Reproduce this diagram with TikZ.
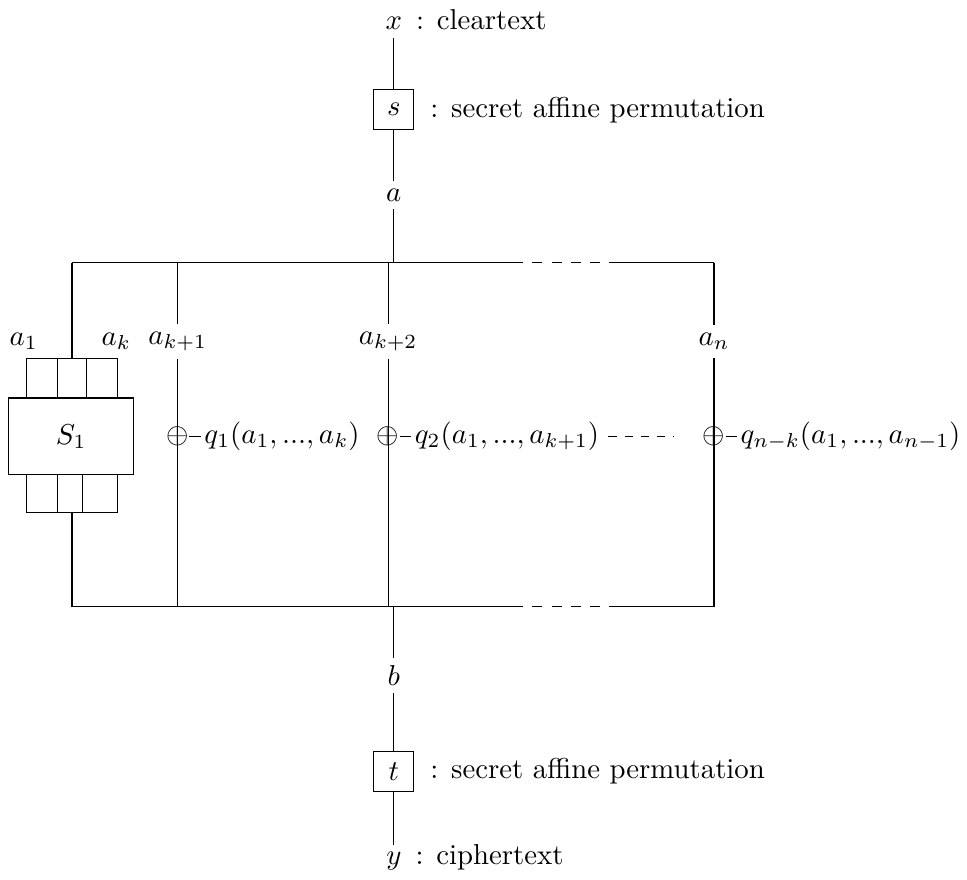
\documentclass[tikz,border=0pt]{standalone}
\usepackage{amssymb,amsmath}
\usetikzlibrary{positioning}

\begin{document}
\begin{tikzpicture}[
  lbl/.style={inner sep=2.5pt},
  perm/.style={draw, minimum size=0.49cm, inner sep=0pt},
  xorop/.style={inner sep=0pt},
  poly/.style={inner sep=1pt},
  gapdash/.style={dash pattern=on 3.5pt off 3.2pt}]
\useasboundingbox (0,0) rectangle (11.81,10.74);

% input side
\node[lbl] (x) at (4.81,10.45) {$x$};
\node[anchor=base west, inner sep=0pt] (xdesc) at ([xshift=2pt]x.base east) {: cleartext};
\node[perm] (s) at (4.81,9.40) {$s$};
\node[right=2pt of s] (sdesc) {: secret affine permutation};
\node[lbl] (a) at (4.81,8.36) {$a$};
\coordinate (top) at (4.81,7.53);
\draw (x) -- (s) -- (a) -- (top);

% frame
\coordinate (tl) at (0.88,7.53);
\coordinate (tr) at (8.72,7.53);
\coordinate (bl) at (0.88,3.33);
\coordinate (br) at (8.72,3.33);
\draw (tl) -- (6.39,7.53);
\draw[gapdash] (6.50,7.53) -- (7.33,7.53);
\draw (7.44,7.53) -- (tr);
\draw (bl) -- (6.39,3.33);
\draw[gapdash] (6.50,3.33) -- (7.33,3.33);
\draw (7.44,3.33) -- (br);

% branches
\node[lbl] (a1) at (0.29,6.57) {$a_1$};
\node[lbl] (ak) at (1.42,6.57) {$a_k$};
\node[lbl] (ak1) at (2.17,6.57) {$a_{k+1}$};
\node[lbl] (ak2) at (4.74,6.57) {$a_{k+2}$};
\node[lbl] (an) at (8.72,6.57) {$a_n$};

% S-box
\node[draw, minimum width=1.53cm, minimum height=0.94cm] (S1) at (0.87,5.41) {$S_1$};
\draw (0.32,5.885) rectangle (1.44,6.36);
\draw (0.70,5.885) -- (0.70,6.36) (1.06,5.885) -- (1.06,6.36);
\draw (0.32,4.48) rectangle (1.44,4.945);
\draw (0.70,4.48) -- (0.70,4.945) (1.01,4.48) -- (1.01,4.945);
\draw (tl) -- (0.88,6.36);
\draw (0.88,4.48) -- (bl);

\draw (ak1 |- tl) -- (ak1) -- (ak1 |- bl);
\draw (ak2 |- tl) -- (ak2) -- (ak2 |- bl);
\draw (tr) -- (an) -- (br);

% xor with the polynomials
\node[xorop] (p1) at (2.17,5.41) {$\oplus$};
\node[xorop] (p2) at (4.74,5.41) {$\oplus$};
\node[xorop] (pn) at (8.72,5.41) {$\oplus$};
\node[poly, right=4pt of p1] (q1) {$q_1(a_1,...,a_k)$};
\node[poly, right=4pt of p2] (q2) {$q_2(a_1,...,a_{k+1})$};
\node[poly, right=4pt of pn] (qn) {$q_{n-k}(a_1,...,a_{n-1})$};
\draw (p1) -- (q1);
\draw (p2) -- (q2);
\draw (pn) -- (qn);
\draw[dash pattern=on 3pt off 2.6pt, shorten <=2pt, shorten >=9.7pt] (q2) -- (pn);

% output side
\coordinate (bot) at (4.81,3.33);
\node[lbl] (b) at (4.81,2.49) {$b$};
\node[perm] (t) at (4.81,1.32) {$t$};
\node[right=2pt of t] (tdesc) {: secret affine permutation};
\node[lbl] (y) at (4.81,0.22) {$y$};
\node[anchor=base west, inner sep=0pt] (ydesc) at ([xshift=2pt]y.base east) {: ciphertext};
\draw (bot) -- (b) -- (t) -- (y);
\end{tikzpicture}
\end{document}
